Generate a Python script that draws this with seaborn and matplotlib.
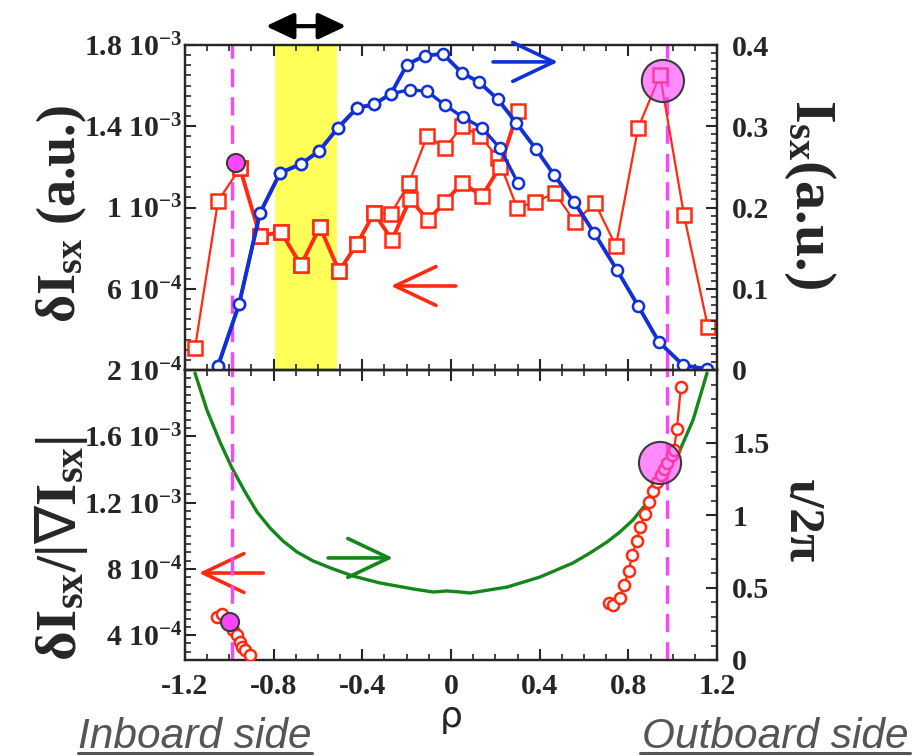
import numpy as np
import pandas as pd
import matplotlib
matplotlib.use("Agg")
import matplotlib.pyplot as plt
import seaborn as sns
from matplotlib.ticker import FixedLocator, MultipleLocator, FuncFormatter
from matplotlib.lines import Line2D

# ---------------- data ----------------
# top panel, left axis: fluctuation amplitude dI_sx (red squares)
rho_sq = [-1.155, -1.051, -0.952, -0.862, -0.767, -0.677, -0.591, -0.505, -0.424, -0.347,
          -0.271, -0.189, -0.108, -0.027, 0.050, 0.131, 0.212, 0.298, 0.379, 0.469,
          0.559, 0.650, 0.744, 0.844, 0.943, 1.051, 1.159]
dI_a = [3.08e-4, 1.032e-3, 1.194e-3, 8.60e-4, 8.79e-4, 7.17e-4, 9.04e-4, 6.87e-4, 8.20e-4, 9.73e-4,
        9.68e-4, 1.121e-3, 1.352e-3, 1.293e-3, 1.401e-3, 1.352e-3, 1.244e-3, 9.98e-4, 1.027e-3, 1.071e-3,
        9.29e-4, 1.022e-3, 8.10e-4, 1.391e-3, 1.652e-3, 9.63e-4, 4.12e-4]
rho_sq_b = [-0.952, -0.862, -0.767, -0.677, -0.591, -0.505, -0.424, -0.347, -0.266, -0.185,
            -0.104, -0.027, 0.050, 0.140, 0.221, 0.302]
dI_b = [1.194e-3, 8.60e-4, 8.79e-4, 7.17e-4, 9.04e-4, 6.87e-4, 8.20e-4, 9.73e-4, 8.40e-4, 1.042e-3,
        9.38e-4, 1.027e-3, 1.121e-3, 1.057e-3, 1.200e-3, 1.475e-3]

# top panel, right axis: I_sx profiles (blue circles)
rho_c = [-1.051, -0.956, -0.862, -0.771, -0.677, -0.595, -0.510, -0.424, -0.347, -0.271,
         -0.198, -0.117, -0.036, 0.050, 0.126, 0.212, 0.293, 0.383, 0.465, 0.555,
         0.645, 0.749, 0.844, 0.938, 1.047, 1.155]
Isx_a = [0.005, 0.081, 0.193, 0.2425, 0.2535, 0.2695, 0.298, 0.3225, 0.327, 0.340,
         0.376, 0.387, 0.389, 0.3655, 0.3545, 0.333, 0.3046, 0.272, 0.240, 0.207,
         0.169, 0.123, 0.079, 0.0345, 0.006, 0.001]
rho_c_b = [-1.051, -0.956, -0.862, -0.771, -0.677, -0.595, -0.510, -0.424, -0.347, -0.271,
           -0.185, -0.108, -0.027, 0.054, 0.140, 0.221, 0.302]
Isx_b = [0.005, 0.081, 0.193, 0.2425, 0.2535, 0.2695, 0.298, 0.3225, 0.327, 0.340,
         0.345, 0.343, 0.326, 0.311, 0.298, 0.273, 0.230]

# bottom panel, right axis: rotational transform iota/2pi (green)
rho_iota = [-1.155, -1.101, -1.042, -0.988, -0.929, -0.875, -0.816, -0.758, -0.695, -0.622,
            -0.532, -0.442, -0.320, -0.171, -0.081, -0.018, 0.041, 0.086, 0.253, 0.401,
            0.550, 0.627, 0.704, 0.762, 0.821, 0.884, 0.929, 0.988, 1.033, 1.092, 1.155]
iota = [1.979, 1.724, 1.503, 1.324, 1.159, 1.021, 0.910, 0.821, 0.745, 0.683,
        0.628, 0.579, 0.531, 0.490, 0.469, 0.476, 0.469, 0.462, 0.503, 0.572,
        0.669, 0.738, 0.814, 0.883, 0.966, 1.083, 1.193, 1.331, 1.448, 1.655, 1.979]

# bottom panel, left axis: dI/|grad I| (red circles)
rho_in = [-1.055, -1.035, -1.006, -0.983, -0.965, -0.952, -0.943, -0.929, -0.907]
ratio_in = [5.1e-4, 5.25e-4, 4.8e-4, 4.3e-4, 4.0e-4, 3.6e-4, 3.3e-4, 3.1e-4, 2.8e-4]
rho_out = [0.713, 0.731, 0.762, 0.780, 0.803, 0.816, 0.839, 0.853, 0.875, 0.893,
           0.911, 0.929, 0.947, 0.961, 0.974, 0.997, 1.006, 1.019, 1.037]
ratio_out = [5.94e-4, 5.82e-4, 6.24e-4, 7.03e-4, 7.87e-4, 8.84e-4, 9.68e-4, 1.053e-3, 1.131e-3, 1.204e-3,
             1.270e-3, 1.324e-3, 1.366e-3, 1.403e-3, 1.439e-3, 1.487e-3, 1.517e-3, 1.644e-3, 1.897e-3]

# highlighted points
hl_top_x = [-0.970, 0.956]
hl_top_y = [1.219e-3, 1.623e-3]
hl_bot_x = [-0.997, 0.943]
hl_bot_y = [4.79e-4, 1.439e-3]

sep_lines = [-0.988, 0.973]
band = [-0.794, -0.516]

x_ticks = [-1.2, -0.8, -0.4, 0.0, 0.4, 0.8, 1.2]
x_ticklabels = ["-1.2", "-0.8", "-0.4", "0", "0.4", "0.8", "1.2"]
top_left_ticks = [2e-4, 6e-4, 1e-3, 1.4e-3, 1.8e-3]
top_right_ticks = [0, 0.1, 0.2, 0.3, 0.4]
bot_left_ticks = [4e-4, 8e-4, 1.2e-3, 1.6e-3]
bot_right_ticks = [0, 0.5, 1, 1.5]

# ---------------- style ----------------
sns.set_style("ticks")
plt.rcParams["font.family"] = ["Liberation Serif", "DejaVu Serif"]
plt.rcParams["font.weight"] = "bold"
plt.rcParams["mathtext.fontset"] = "custom"
plt.rcParams["mathtext.rm"] = "Liberation Serif:bold"
plt.rcParams["mathtext.it"] = "Liberation Serif:bold"
plt.rcParams["mathtext.bf"] = "Liberation Serif:bold"
plt.rcParams["mathtext.sf"] = "DejaVu Sans:normal"
plt.rcParams["axes.unicode_minus"] = False

RED = "#ff2a10"
BLUE = "#1030d8"
GREEN = "#14861a"
MAG = "#ff44ff"
TICK = 21.5

def sci_fmt(v, pos):
    m, e = f"{v:.1e}".split("e")
    return f"{float(m):g} 10$^{{{int(e)}}}$"

fig = plt.figure(figsize=(9.15, 7.56), dpi=100)
L, W = 185 / 915, 532 / 915
ax1 = fig.add_axes([L, 1 - 370 / 756, W, 325 / 756])
ax2 = fig.add_axes([L, 1 - 660 / 756, W, 290 / 756], sharex=ax1)
ax1r = ax1.twinx()
ax2r = ax2.twinx()

# ---- top panel ----
ax1.axvspan(band[0], band[1], color="#ffff5a", lw=0, zorder=0)
for xv in sep_lines:
    for a in (ax1, ax2):
        a.axvline(xv, color=MAG, lw=2.4, ls=(0, (5.5, 3)), zorder=1)

sns.lineplot(x=rho_sq, y=dI_a, ax=ax1, color=RED, lw=1.6, marker="s", markersize=10,
             markerfacecolor="white", markeredgecolor=RED, markeredgewidth=1.8,
             estimator=None, sort=False, zorder=3)
sns.lineplot(x=rho_sq_b, y=dI_b, ax=ax1, color=RED, lw=2.8, marker="s", markersize=10,
             markerfacecolor="white", markeredgecolor=RED, markeredgewidth=1.8,
             estimator=None, sort=False, zorder=3)
sns.scatterplot(x=hl_top_x, y=hl_top_y, ax=ax1, s=[170, 920], zorder=5, legend=False)
coll = ax1.collections[-1]
coll.set_facecolor([(1, 0.27, 1, 1.0), (1, 0.27, 1, 0.62)])
coll.set_edgecolor("#3a3a3a")
coll.set_linewidth(1.5)
coll.set_sizes([170, 920])

sns.lineplot(x=rho_c_b, y=Isx_b, ax=ax1r, color=BLUE, lw=2.4, marker="o", markersize=8,
             markerfacecolor="white", markeredgecolor=BLUE, markeredgewidth=1.8,
             estimator=None, sort=False, zorder=3)
sns.lineplot(x=rho_c, y=Isx_a, ax=ax1r, color=BLUE, lw=2.8, marker="o", markersize=8,
             markerfacecolor="white", markeredgecolor=BLUE, markeredgewidth=1.8,
             estimator=None, sort=False, zorder=3)

# ---- bottom panel ----
sns.lineplot(x=rho_iota, y=iota, ax=ax2r, color=GREEN, lw=2.4, estimator=None, sort=False)
for xs, ys in ((rho_in, ratio_in), (rho_out, ratio_out)):
    sns.lineplot(x=xs, y=ys, ax=ax2, color=RED, lw=1.6, marker="o", markersize=8,
                 markerfacecolor="white", markeredgecolor=RED, markeredgewidth=1.8,
                 estimator=None, sort=False, zorder=3)
ax2.set_zorder(ax2r.get_zorder() + 1)
ax2.patch.set_visible(False)
sns.scatterplot(x=hl_bot_x, y=hl_bot_y, ax=ax2, s=[170, 920], zorder=5, legend=False)
coll = ax2.collections[-1]
coll.set_facecolor([(1, 0.27, 1, 1.0), (1, 0.27, 1, 0.62)])
coll.set_edgecolor("#3a3a3a")
coll.set_linewidth(1.5)
coll.set_sizes([170, 920])

# ---- axes / ticks ----
ax1.set_xlim(-1.2, 1.2)
ax1.set_ylim(2e-4, 1.8e-3)
ax1r.set_ylim(0, 0.4)
ax2.set_ylim(2.5e-4, 2.0e-3)
ax2r.set_ylim(0, 2.0)

for a in (ax1, ax2):
    a.xaxis.set_major_locator(FixedLocator(x_ticks))
    a.xaxis.set_minor_locator(MultipleLocator(0.1))
ax2.set_xticklabels(x_ticklabels)

ax1.yaxis.set_major_locator(FixedLocator(top_left_ticks))
ax1.yaxis.set_minor_locator(MultipleLocator(5e-5))
ax1.yaxis.set_major_formatter(FuncFormatter(sci_fmt))
ax2.yaxis.set_major_locator(FixedLocator(bot_left_ticks))
ax2.yaxis.set_minor_locator(MultipleLocator(5e-5))
ax2.yaxis.set_major_formatter(FuncFormatter(sci_fmt))
ax1r.yaxis.set_major_locator(FixedLocator(top_right_ticks))
ax1r.yaxis.set_minor_locator(MultipleLocator(0.01))
ax1r.yaxis.set_major_formatter(FuncFormatter(lambda v, p: f"{v:g}"))
ax2r.yaxis.set_major_locator(FixedLocator(bot_right_ticks))
ax2r.yaxis.set_minor_locator(MultipleLocator(0.1))
ax2r.yaxis.set_major_formatter(FuncFormatter(lambda v, p: f"{v:g}"))

for a in (ax1, ax2, ax1r, ax2r):
    for s in a.spines.values():
        s.set_linewidth(1.6)
    a.tick_params(which="major", direction="in", length=8, width=1.5, labelsize=TICK)
    a.tick_params(which="minor", direction="in", length=4.5, width=1.2)
    for lab in a.get_xticklabels() + a.get_yticklabels():
        lab.set_fontweight("bold")
    a.set_xlabel("")
    a.set_ylabel("")
ax1.tick_params(axis="x", which="both", top=True, bottom=True, labelbottom=False)
ax2.tick_params(axis="x", which="both", top=True, bottom=True, labelbottom=True, pad=9)
ax1.tick_params(axis="y", which="both", left=True, right=False, pad=2)
ax2.tick_params(axis="y", which="both", left=True, right=False, pad=2)
ax1r.tick_params(axis="y", which="both", right=True, left=False, pad=11)
ax2r.tick_params(axis="y", which="both", right=True, left=False, pad=11)

# axis labels
ax1.set_ylabel("δI$_{\\mathbf{sx}}$ (a.u.)", fontsize=39, fontweight="bold", va="center")
ax2.set_ylabel("δI$_{\\mathbf{sx}}$/|$\\mathsf{\\nabla}$I$_{\\mathbf{sx}}$|", fontsize=41,
               fontweight="bold", va="center")
ax1r.set_ylabel("I$_{\\mathbf{sx}}$(a.u.)", fontsize=42, fontweight="bold", rotation=270, va="center")
ax2r.set_ylabel("ι/2π", fontsize=37, fontweight="bold", rotation=270, va="center")
ax1.yaxis.set_label_coords((62 - 185) / 532, (370 - 214) / 325)
ax2.yaxis.set_label_coords((62 - 185) / 532, (660 - 548) / 290)
ax1r.yaxis.set_label_coords((810 - 185) / 532, (370 - 194) / 325)
ax2r.yaxis.set_label_coords((801 - 185) / 532, (660 - 521) / 290)

# arrows
def arrow(ax, tail, tip, color, hl=2.95, hw=1.4, lw=2.6):
    ax.annotate("", xy=tip, xytext=tail, xycoords="axes fraction", textcoords="axes fraction",
                arrowprops=dict(arrowstyle=f"->,head_length={hl},head_width={hw}", color=color,
                                lw=lw, shrinkA=0, shrinkB=0, mutation_scale=10),
                annotation_clip=False, zorder=6)

arrow(ax1r, (0.579, 0.948), (0.701, 0.948), BLUE)
arrow(ax1r, (0.509, 0.2585), (0.387, 0.2585), RED)
arrow(ax2r, (0.269, 0.352), (0.391, 0.352), GREEN)
arrow(ax2r, (0.147, 0.30), (0.026, 0.30), RED)
ax1r.annotate("", xy=(0.152, 1.058), xytext=(0.303, 1.058), xycoords="axes fraction",
              arrowprops=dict(arrowstyle="<|-|>,head_length=1.7,head_width=0.8", color="black",
                              lw=3.0, shrinkA=0, shrinkB=0, mutation_scale=10),
              annotation_clip=False)

# x label and side captions
fig.text(451 / 915, 1 - 717 / 756, "ρ", family="DejaVu Sans", fontweight="normal", fontsize=26,
         ha="center", va="center")
cap_kw = dict(family=["Liberation Sans", "DejaVu Sans"], style="italic", fontweight="normal",
              fontsize=30.5, color="#555555", va="baseline")
fig.text(78 / 915, 1 - 748 / 756, "Inboard side", ha="left", **cap_kw)
fig.text(909 / 915, 1 - 748 / 756, "Outboard side", ha="right", **cap_kw)
fig.add_artist(Line2D([78 / 915, 312 / 915], [1 - 753 / 756] * 2, color="#555555", lw=2.2))
fig.add_artist(Line2D([640 / 915, 910 / 915], [1 - 753 / 756] * 2, color="#555555", lw=2.2))

fig.savefig("out.png", dpi=100)
